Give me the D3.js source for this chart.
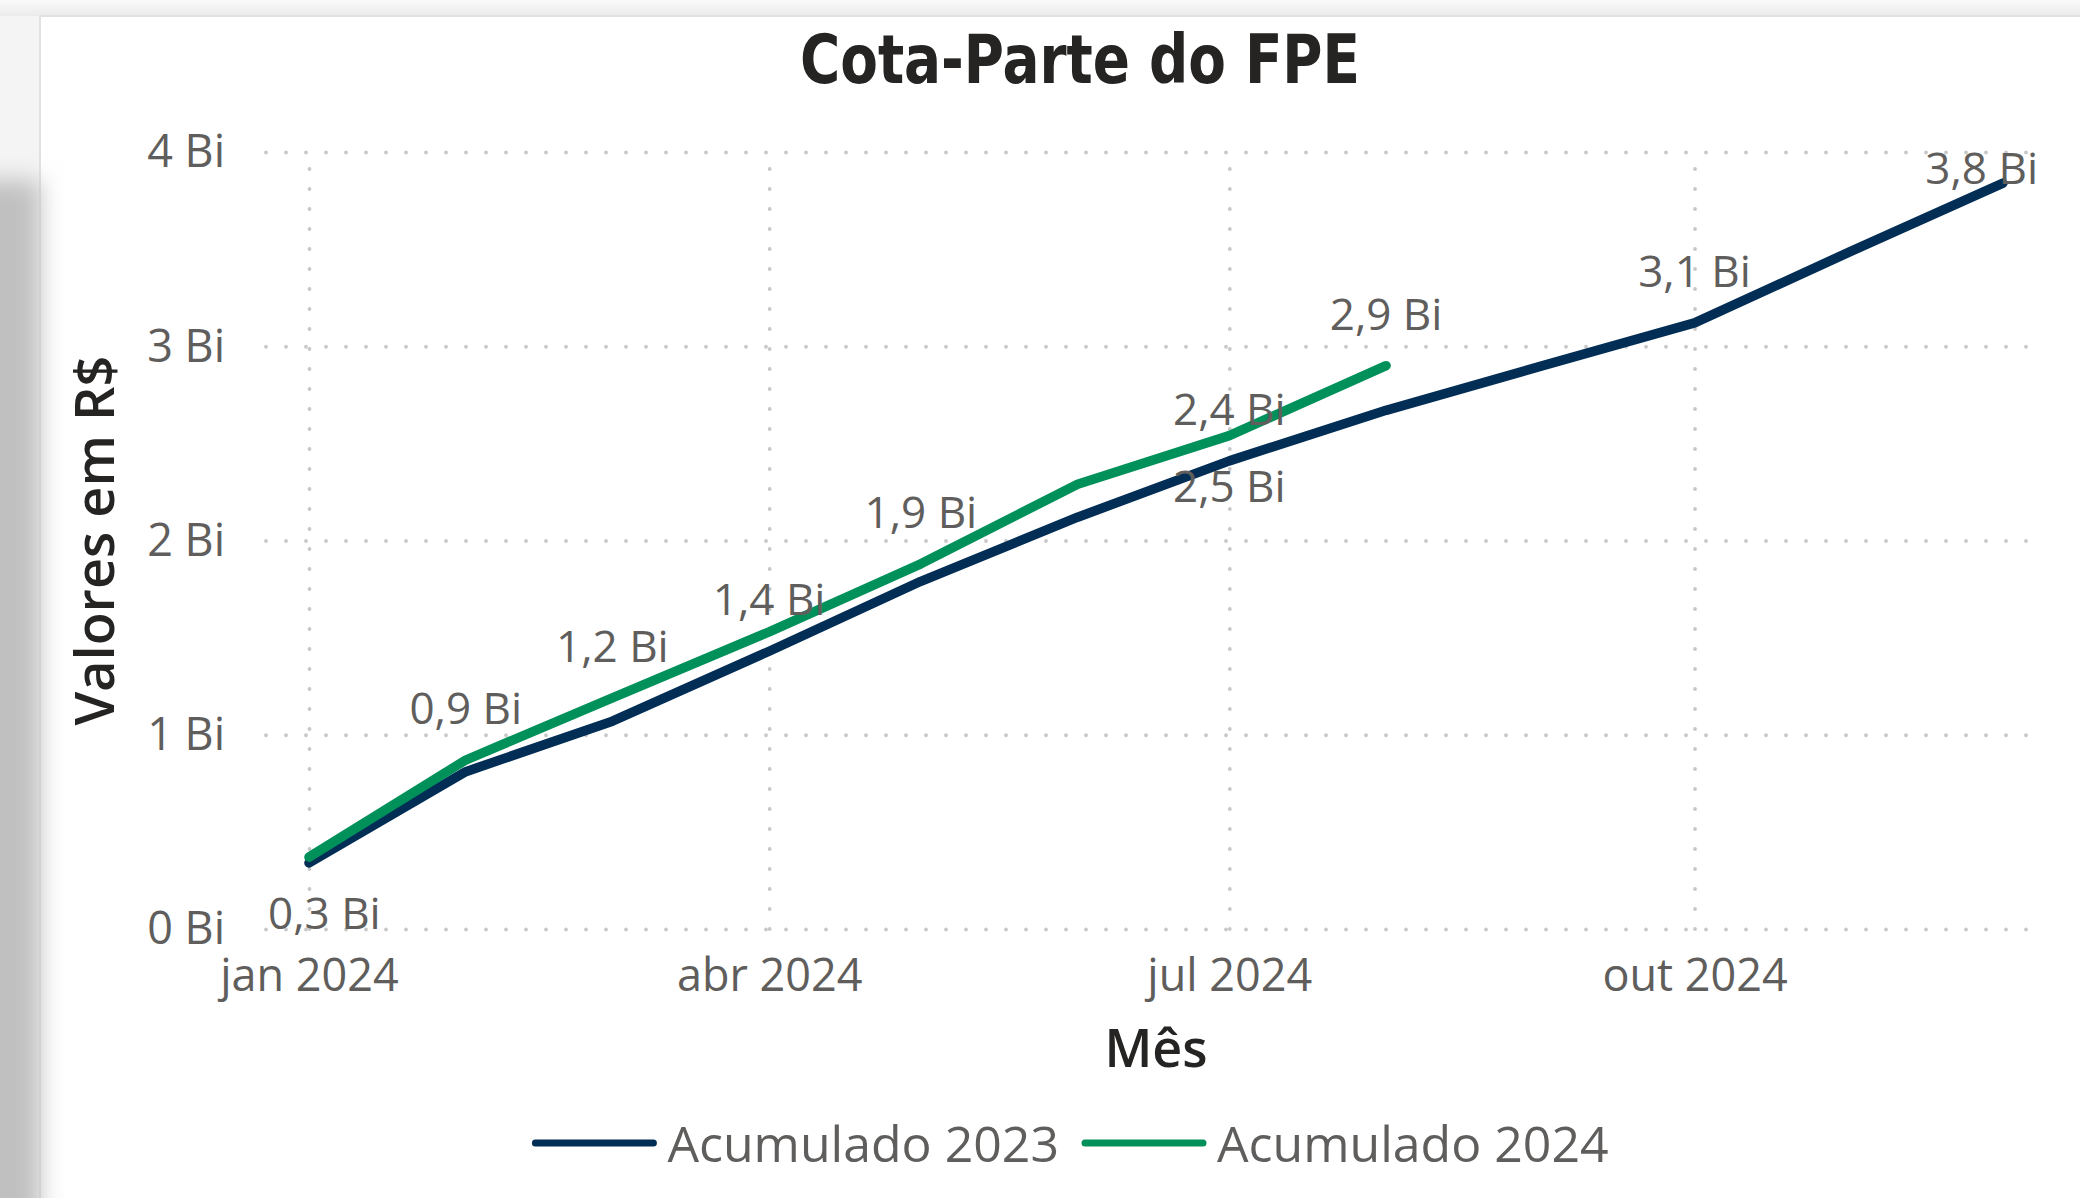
<!DOCTYPE html>
<html lang="pt">
<head>
<meta charset="UTF-8">
<title>Cota-Parte do FPE</title>
<script src="https://d3js.org/d3.v7.min.js"></script>
<style>
  body { margin: 0; background: #fff; }
  svg { display: block; }
  .tick text { font-family: "Open Sans", "Noto Sans", sans-serif; fill: #605E5C; }
  .grid line { stroke: #c8c8c8; stroke-width: 3.8; stroke-dasharray: 0 20; stroke-linecap: round; }
</style>
</head>
<body>
<div id="chart"></div>
<script>
// dados (em bilhões de R$)
const meses = ["2024-01-01", "2024-02-01", "2024-03-01", "2024-04-01", "2024-05-01", "2024-06-01",
               "2024-07-01", "2024-08-01", "2024-09-01", "2024-10-01", "2024-11-01", "2024-12-01"];
const acumulado2023 = [0.34, 0.81, 1.07, 1.43, 1.79, 2.12, 2.41, 2.67, 2.90, 3.12, 3.49, 3.84];
const acumulado2024 = [0.37, 0.87, 1.19, 1.53, 1.88, 2.29, 2.54, 2.90];
const yTicks = [0, 1, 2, 3, 4];
const xTicks = ["2024-01-01", "2024-04-01", "2024-07-01", "2024-10-01"];
const seriesNames = ["Acumulado 2023", "Acumulado 2024"];
const seriesColors = ["#022D55", "#00915A"];
// quais pontos recebem rótulo de dados (índice do mês)
const rotulos2023 = [0, 3, 6, 9, 11];
const rotulos2024 = [1, 2, 4, 6, 7];
const rotulosAbaixo = ["2023-0", "2024-6"];

const W = 2080, H = 1198;
const plot = { left: 266, right: 2034, top: 152, bottom: 929 };

const svg = d3.select("#chart").append("svg")
  .attr("width", W).attr("height", H);

// fundo / moldura do cartão
const defs = svg.append("defs");
defs.append("filter").attr("id", "blur")
  .attr("x", "-50%").attr("y", "-20%").attr("width", "200%").attr("height", "140%")
  .append("feGaussianBlur").attr("stdDeviation", 12);
const grad = defs.append("linearGradient").attr("id", "topo")
  .attr("x1", 0).attr("y1", 0).attr("x2", 0).attr("y2", 1);
grad.append("stop").attr("offset", 0).attr("stop-color", "#fafafa");
grad.append("stop").attr("offset", 1).attr("stop-color", "#ebebeb");

svg.append("rect").attr("width", W).attr("height", H).attr("fill", "#f4f4f4");
svg.append("rect").attr("width", W).attr("height", 16).attr("fill", "url(#topo)");
svg.append("rect")
  .attr("x", 40).attr("y", 16).attr("width", W).attr("height", H)
  .attr("fill", "#fff").attr("stroke", "#e2e2e2").attr("stroke-width", 2);
svg.append("rect")
  .attr("x", -80).attr("y", 180).attr("width", 120).attr("height", 1100)
  .attr("fill", "#c0c0c0").attr("filter", "url(#blur)");

const parse = d3.timeParse("%Y-%m-%d");
const datas = meses.map(parse);

const ptBR = d3.timeFormatLocale({
  dateTime: "%d/%m/%Y %H:%M:%S", date: "%d/%m/%Y", time: "%H:%M:%S",
  periods: ["AM", "PM"],
  days: ["domingo", "segunda", "terça", "quarta", "quinta", "sexta", "sábado"],
  shortDays: ["dom", "seg", "ter", "qua", "qui", "sex", "sáb"],
  months: ["janeiro", "fevereiro", "março", "abril", "maio", "junho", "julho", "agosto",
           "setembro", "outubro", "novembro", "dezembro"],
  shortMonths: ["jan", "fev", "mar", "abr", "mai", "jun", "jul", "ago", "set", "out", "nov", "dez"]
});

const x = d3.scaleTime()
  .domain([datas[0], datas[datas.length - 1]])
  .range([309, 2003]);
const y = d3.scaleLinear()
  .domain([0, 4])
  .range([plot.bottom, plot.top]);

// eixo Y com grade pontilhada
const yAxis = svg.append("g")
  .attr("class", "grid")
  .attr("transform", `translate(${plot.left},0)`)
  .call(d3.axisLeft(y)
    .tickValues(yTicks)
    .tickSize(-(plot.right - plot.left))
    .tickPadding(41)
    .tickFormat(d => d + " Bi"));
yAxis.select(".domain").remove();
yAxis.selectAll("text").style("font-size", "45px").attr("dy", "0.33em");

// eixo X com grade pontilhada
const xAxis = svg.append("g")
  .attr("class", "grid")
  .attr("transform", `translate(0,${plot.bottom})`)
  .call(d3.axisBottom(x)
    .tickValues(xTicks.map(parse))
    .tickSize(-(plot.bottom - plot.top))
    .tickPadding(30)
    .tickFormat(ptBR.format("%b %Y")));
xAxis.select(".domain").remove();
xAxis.selectAll("text").style("font-size", "45px");

// linhas
const series = [acumulado2023, acumulado2024];
const line = d3.line()
  .x((d, i) => x(datas[i]))
  .y(d => y(d));

svg.selectAll(".serie")
  .data(series)
  .enter()
  .append("path")
  .attr("class", "serie")
  .attr("d", d => line(d))
  .attr("fill", "none")
  .attr("stroke", (d, i) => seriesColors[i])
  .attr("stroke-width", 9.5)
  .attr("stroke-linejoin", "round")
  .attr("stroke-linecap", "round");

// rótulos de dados
const fmt = v => d3.format(".1f")(v).replace(".", ",") + " Bi";
const rotulos = [];
rotulos2023.forEach(i => rotulos.push({ ano: "2023", i: i, v: acumulado2023[i] }));
rotulos2024.forEach(i => rotulos.push({ ano: "2024", i: i, v: acumulado2024[i] }));

const lbl = svg.append("g")
  .style("font-family", "\"Open Sans\", \"Noto Sans\", sans-serif")
  .style("font-size", "44px")
  .attr("fill", "#605E5C");

rotulos.forEach(r => {
  const t = lbl.append("text").attr("text-anchor", "middle").text(fmt(r.v));
  const w = t.node().getComputedTextLength();
  let cx = x(datas[r.i]);
  cx = Math.max(cx, 268 + w / 2);
  cx = Math.min(cx, 2038 - w / 2);
  const py = y(r.v);
  let by = rotulosAbaixo.includes(r.ano + "-" + r.i) ? py + 66 : py - 36;
  by = Math.max(by, plot.top + 32);
  t.attr("x", cx).attr("y", by);
});

// título
svg.append("text")
  .attr("x", 1080).attr("y", 83)
  .attr("text-anchor", "middle")
  .attr("textLength", 560)
  .attr("lengthAdjust", "spacingAndGlyphs")
  .style("font-family", "\"DejaVu Sans Condensed\", \"DejaVu Sans\", sans-serif")
  .style("font-weight", "bold")
  .style("font-size", "68px")
  .attr("fill", "#252423")
  .text("Cota-Parte do FPE");

// títulos dos eixos
svg.append("text")
  .attr("x", 1156).attr("y", 1067)
  .attr("text-anchor", "middle")
  .style("font-family", "\"Open Sans\", \"Noto Sans\", sans-serif")
  .style("font-size", "52px")
  .style("font-weight", 600)
  .attr("fill", "#252423")
  .text("Mês");

svg.append("text")
  .attr("transform", `translate(114,${(plot.top + plot.bottom) / 2}) rotate(-90)`)
  .attr("text-anchor", "middle")
  .style("font-family", "\"Open Sans\", \"Noto Sans\", sans-serif")
  .style("font-size", "54px")
  .style("font-weight", 600)
  .attr("fill", "#252423")
  .text("Valores em R$");

// legenda
const leg = svg.append("g");
let lx = 0;
seriesNames.forEach((nome, i) => {
  const item = leg.append("g").attr("transform", `translate(${lx},0)`);
  item.append("line")
    .attr("x1", 4).attr("x2", 122).attr("y1", 0).attr("y2", 0)
    .attr("stroke", seriesColors[i]).attr("stroke-width", 7)
    .attr("stroke-linecap", "round");
  const t = item.append("text")
    .attr("x", 136).attr("y", 19)
    .style("font-family", "\"Open Sans\", \"Noto Sans\", sans-serif")
    .style("font-size", "50px")
    .attr("fill", "#605E5C")
    .text(nome);
  lx += 136 + t.node().getComputedTextLength() + 22;
});
const legW = lx - 22;
leg.attr("transform", `translate(${1070 - legW / 2},1143)`);
</script>
</body>
</html>
